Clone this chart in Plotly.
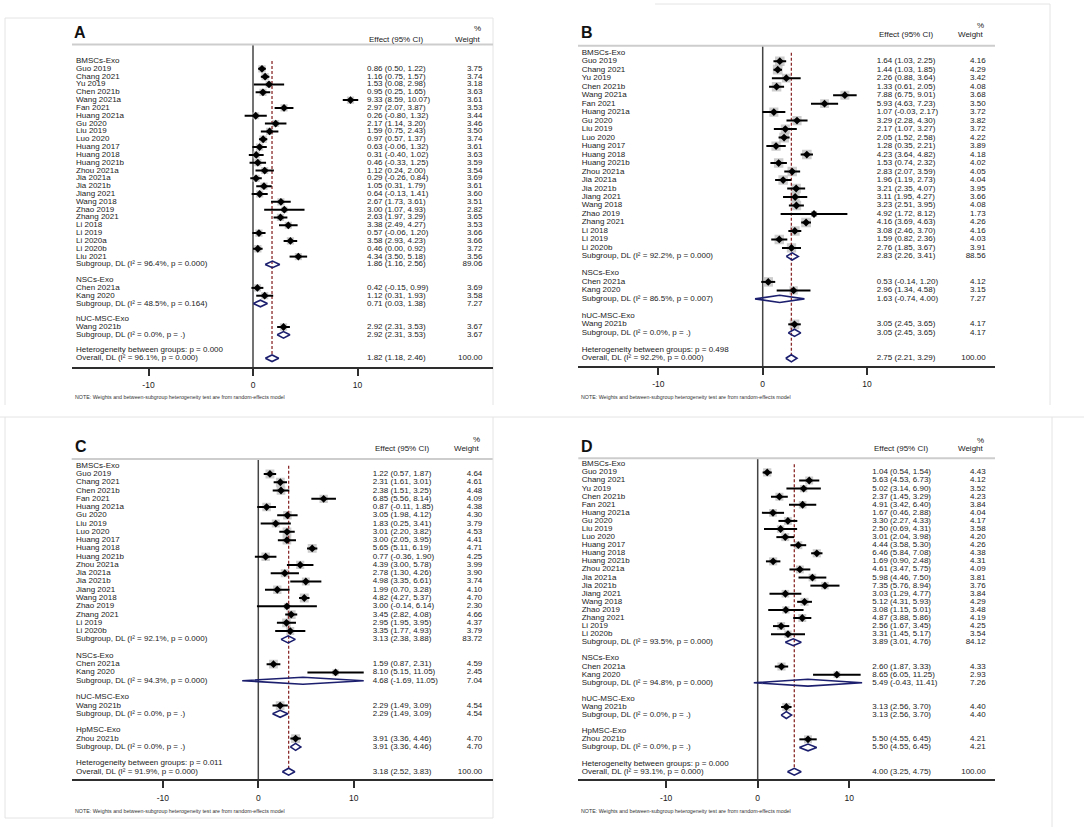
import math
import plotly.graph_objects as go

W, H = 1084, 827
FONT = "Liberation Sans"
TXT = "#1a1a1a"
NAVY = "#1c1f6e"
MAROON = "#8b2a2a"
BOXGREY = "#b8b8b8"
TICKS = [-10, 0, 10]
NOTE = "NOTE: Weights and between-subgroup heterogeneity test are from random-effects model"

# ---------------- Panel A ----------------
A_study = ["Guo 2019", "Chang 2021", "Yu 2019", "Chen 2021b", "Wang 2021a", "Fan 2021", "Huang 2021a",
           "Gu 2020", "Liu 2019", "Luo 2020", "Huang 2017", "Huang 2018", "Huang 2021b", "Zhou 2021a",
           "Jia 2021a", "Jia 2021b", "Jiang 2021", "Wang 2018", "Zhao 2019", "Zhang 2021", "Li 2018",
           "Li 2019", "Li 2020a", "Li 2020b", "Liu 2021", "Chen 2021a", "Kang 2020", "Wang 2021b"]
A_grp = [0] * 25 + [1, 1] + [2]
A_est = [0.86, 1.16, 1.53, 0.95, 9.33, 2.97, 0.26, 2.17, 1.59, 0.97, 0.63, 0.31, 0.46, 1.12, 0.29, 1.05,
         0.64, 2.67, 3.00, 2.63, 3.38, 0.57, 3.58, 0.46, 4.34, 0.42, 1.12, 2.92]
A_lo = [0.50, 0.75, 0.08, 0.25, 8.59, 2.07, -0.80, 1.14, 0.75, 0.57, -0.06, -0.40, -0.33, 0.24, -0.26, 0.31,
        -0.13, 1.73, 1.07, 1.97, 2.49, -0.06, 2.93, 0.00, 3.50, -0.15, 0.31, 2.31]
A_hi = [1.22, 1.57, 2.98, 1.65, 10.07, 3.87, 1.32, 3.20, 2.43, 1.37, 1.32, 1.02, 1.25, 2.00, 0.84, 1.79,
        1.41, 3.61, 4.93, 3.29, 4.27, 1.20, 4.23, 0.92, 5.18, 0.99, 1.93, 3.53]
A_wt = [3.75, 3.74, 3.18, 3.63, 3.61, 3.53, 3.44, 3.46, 3.50, 3.74, 3.61, 3.63, 3.59, 3.54, 3.69, 3.61,
        3.60, 3.51, 2.82, 3.65, 3.53, 3.66, 3.66, 3.72, 3.56, 3.69, 3.58, 3.67]
A_groups = ["BMSCs-Exo", "NSCs-Exo", "hUC-MSC-Exo"]
A_sub_est = [1.86, 0.71, 2.92]
A_sub_lo = [1.16, 0.03, 2.31]
A_sub_hi = [2.56, 1.38, 3.53]
A_sub_wt = [89.06, 7.27, 3.67]
A_sub_i2 = ["96.4%", "48.5%", "0.0%"]
A_sub_p = ["0.000", "0.164", "."]
A_het_p = "0.000"
A_all = [1.82, 1.18, 2.46]
A_all_i2 = "96.1%"
A_all_p = "0.000"

# ---------------- Panel B ----------------
B_study = ["Guo 2019", "Chang 2021", "Yu 2019", "Chen 2021b", "Wang 2021a", "Fan 2021", "Huang 2021a",
           "Gu 2020", "Liu 2019", "Luo 2020", "Huang 2017", "Huang 2018", "Huang 2021b", "Zhou 2021a",
           "Jia 2021a", "Jia 2021b", "Jiang 2021", "Wang 2018", "Zhao 2019", "Zhang 2021", "Li 2018",
           "Li 2019", "Li 2020b", "Chen 2021a", "Kang 2020", "Wang 2021b"]
B_grp = [0] * 23 + [1, 1] + [2]
B_est = [1.64, 1.44, 2.26, 1.33, 7.88, 5.93, 1.07, 3.29, 2.17, 2.05, 1.28, 4.23, 1.53, 2.83, 1.96, 3.21,
         3.11, 3.23, 4.92, 4.16, 3.08, 1.59, 2.76, 0.53, 2.96, 3.05]
B_lo = [1.03, 1.03, 0.88, 0.61, 6.75, 4.63, -0.03, 2.28, 1.07, 1.52, 0.35, 3.64, 0.74, 2.07, 1.19, 2.35,
        1.95, 2.51, 1.72, 3.69, 2.46, 0.82, 1.85, -0.14, 1.34, 2.45]
B_hi = [2.25, 1.85, 3.64, 2.05, 9.01, 7.23, 2.17, 4.30, 3.27, 2.58, 2.21, 4.82, 2.32, 3.59, 2.73, 4.07,
        4.27, 3.95, 8.12, 4.63, 3.70, 2.36, 3.67, 1.20, 4.58, 3.65]
B_wt = [4.16, 4.29, 3.42, 4.08, 3.68, 3.50, 3.72, 3.82, 3.72, 4.22, 3.89, 4.18, 4.02, 4.05, 4.04, 3.95,
        3.66, 4.08, 1.73, 4.26, 4.16, 4.03, 3.91, 4.12, 3.15, 4.17]
B_groups = ["BMSCs-Exo", "NSCs-Exo", "hUC-MSC-Exo"]
B_sub_est = [2.83, 1.63, 3.05]
B_sub_lo = [2.26, -0.74, 2.45]
B_sub_hi = [3.41, 4.00, 3.65]
B_sub_wt = [88.56, 7.27, 4.17]
B_sub_i2 = ["92.2%", "86.5%", "0.0%"]
B_sub_p = ["0.000", "0.007", "."]
B_het_p = "0.498"
B_all = [2.75, 2.21, 3.29]
B_all_i2 = "92.2%"
B_all_p = "0.000"

# ---------------- Panel C ----------------
C_study = ["Guo 2019", "Chang 2021", "Chen 2021b", "Fan 2021", "Huang 2021a", "Gu 2020", "Liu 2019",
           "Luo 2020", "Huang 2017", "Huang 2018", "Huang 2021b", "Zhou 2021a", "Jia 2021a", "Jia 2021b",
           "Jiang 2021", "Wang 2018", "Zhao 2019", "Zhang 2021", "Li 2019", "Li 2020b", "Chen 2021a",
           "Kang 2020", "Wang 2021b", "Zhou 2021b"]
C_grp = [0] * 20 + [1, 1, 2, 3]
C_est = [1.22, 2.31, 2.38, 6.85, 0.87, 3.05, 1.83, 3.01, 3.00, 5.65, 0.77, 4.39, 2.78, 4.98, 1.99, 4.82,
         3.00, 3.45, 2.95, 3.35, 1.59, 8.10, 2.29, 3.91]
C_lo = [0.57, 1.61, 1.51, 5.56, -0.11, 1.98, 0.25, 2.20, 2.05, 5.11, -0.36, 3.00, 1.30, 3.35, 0.70, 4.27,
        -0.14, 2.82, 1.95, 1.77, 0.87, 5.15, 1.49, 3.36]
C_hi = [1.87, 3.01, 3.25, 8.14, 1.85, 4.12, 3.41, 3.82, 3.95, 6.19, 1.90, 5.78, 4.26, 6.61, 3.28, 5.37,
        6.14, 4.08, 3.95, 4.93, 2.31, 11.05, 3.09, 4.46]
C_wt = [4.64, 4.61, 4.48, 4.09, 4.38, 4.30, 3.79, 4.53, 4.41, 4.71, 4.25, 3.99, 3.90, 3.74, 4.10, 4.70,
        2.30, 4.66, 4.37, 3.79, 4.59, 2.45, 4.54, 4.70]
C_groups = ["BMSCs-Exo", "NSCs-Exo", "hUC-MSC-Exo", "HpMSC-Exo"]
C_sub_est = [3.13, 4.68, 2.29, 3.91]
C_sub_lo = [2.38, -1.69, 1.49, 3.36]
C_sub_hi = [3.88, 11.05, 3.09, 4.46]
C_sub_wt = [83.72, 7.04, 4.54, 4.70]
C_sub_i2 = ["92.1%", "94.3%", "0.0%", "0.0%"]
C_sub_p = ["0.000", "0.000", ".", "."]
C_het_p = "0.011"
C_all = [3.18, 2.52, 3.83]
C_all_i2 = "91.9%"
C_all_p = "0.000"

# ---------------- Panel D ----------------
D_study = ["Guo 2019", "Chang 2021", "Yu 2019", "Chen 2021b", "Fan 2021", "Huang 2021a", "Gu 2020",
           "Liu 2019", "Luo 2020", "Huang 2017", "Huang 2018", "Huang 2021b", "Zhou 2021a", "Jia 2021a",
           "Jia 2021b", "Jiang 2021", "Wang 2018", "Zhao 2019", "Zhang 2021", "Li 2019", "Li 2020b",
           "Chen 2021a", "Kang 2020", "Wang 2021b", "Zhou 2021b"]
D_grp = [0] * 21 + [1, 1, 2, 3]
D_est = [1.04, 5.63, 5.02, 2.37, 4.91, 1.67, 3.30, 2.50, 3.01, 4.44, 6.46, 1.69, 4.61, 5.98, 7.35, 3.03,
         5.12, 3.08, 4.87, 2.56, 3.31, 2.60, 8.65, 3.13, 5.50]
D_lo = [0.54, 4.53, 3.14, 1.45, 3.42, 0.46, 2.27, 0.69, 2.04, 3.58, 5.84, 0.90, 3.47, 4.46, 5.76, 1.29,
        4.31, 1.15, 3.88, 1.67, 1.45, 1.87, 6.05, 2.56, 4.55]
D_hi = [1.54, 6.73, 6.90, 3.29, 6.40, 2.88, 4.33, 4.31, 3.98, 5.30, 7.08, 2.48, 5.75, 7.50, 8.94, 4.77,
        5.93, 5.01, 5.86, 3.45, 5.17, 3.33, 11.25, 3.70, 6.45]
D_wt = [4.43, 4.12, 3.52, 4.23, 3.84, 4.04, 4.17, 3.58, 4.20, 4.26, 4.38, 4.31, 4.09, 3.81, 3.76, 3.84,
        4.29, 3.48, 4.19, 4.25, 3.54, 4.33, 2.93, 4.40, 4.21]
D_groups = ["BMSCs-Exo", "NSCs-Exo", "hUC-MSC-Exo", "HpMSC-Exo"]
D_sub_est = [3.89, 5.49, 3.13, 5.50]
D_sub_lo = [3.01, -0.43, 2.56, 4.55]
D_sub_hi = [4.76, 11.41, 3.70, 6.45]
D_sub_wt = [84.12, 7.26, 4.40, 4.21]
D_sub_i2 = ["93.5%", "94.8%", "0.0%", "0.0%"]
D_sub_p = ["0.000", "0.000", ".", "."]
D_het_p = "0.000"
D_all = [4.00, 3.25, 4.75]
D_all_i2 = "93.1%"
D_all_p = "0.000"

PANELS = [
    ("A", A_study, A_grp, A_est, A_lo, A_hi, A_wt, A_groups, A_sub_est, A_sub_lo, A_sub_hi, A_sub_wt,
     A_sub_i2, A_sub_p, A_het_p, A_all, A_all_i2, A_all_p),
    ("B", B_study, B_grp, B_est, B_lo, B_hi, B_wt, B_groups, B_sub_est, B_sub_lo, B_sub_hi, B_sub_wt,
     B_sub_i2, B_sub_p, B_het_p, B_all, B_all_i2, B_all_p),
    ("C", C_study, C_grp, C_est, C_lo, C_hi, C_wt, C_groups, C_sub_est, C_sub_lo, C_sub_hi, C_sub_wt,
     C_sub_i2, C_sub_p, C_het_p, C_all, C_all_i2, C_all_p),
    ("D", D_study, D_grp, D_est, D_lo, D_hi, D_wt, D_groups, D_sub_est, D_sub_lo, D_sub_hi, D_sub_wt,
     D_sub_i2, D_sub_p, D_het_p, D_all, D_all_i2, D_all_p),
]

# pixel geometry of each panel (layout only)
GEO = {
    "A": dict(zero=253.0, pxu=10.45, xl=72, xr=493, top=44.5, axis=367, row0=61.0, rowN=358.3,
              lab=76, eff=367, wr=482.5, tx=72, ty=33, hy=40, py=29, ny=397, msz=3.8),
    "B": dict(zero=762.7, pxu=10.43, xl=578, xr=995, top=45.7, axis=366, row0=52.7, rowN=358.3,
              lab=581.7, eff=876.7, wr=985.7, tx=579, ty=33, hy=35, py=25, ny=397, msz=4.7),
    "C": dict(zero=258.3, pxu=9.54, xl=71.7, xr=492.7, top=459, axis=779.3, row0=465.7, rowN=771.7,
              lab=76, eff=372.7, wr=482.3, tx=73, ty=447, hy=449, py=439, ny=810.7, msz=4.1),
    "D": dict(zero=757.7, pxu=9.15, xl=578.3, xr=995, top=458.3, axis=779.3, row0=464.3, rowN=771.7,
              lab=581.7, eff=872.3, wr=985.7, tx=579, ty=447, hy=449, py=440, ny=810.7, msz=3.9),
}


def X(px):
    return px / W


def Y(py):
    return 1 - py / H


def fmt(e, l, h):
    return f"{e:.2f} ({l:.2f}, {h:.2f})"


fig = go.Figure()
layout = {}
shapes = []
annotations = []
TF = dict(family=FONT, size=8, color=TXT)

for k, (name, study, grp, est, lo, hi, wt, groups, s_est, s_lo, s_hi, s_wt, s_i2, s_p,
        het_p, allv, all_i2, all_p) in enumerate(PANELS, start=1):
    g = GEO[name]
    xa = "x" if k == 1 else f"x{k}"
    ya = "y" if k == 1 else f"y{k}"
    sfx = "" if k == 1 else str(k)

    lab_r, lab_t = [], []
    eff_r, eff_t, wt_t = [], [], []
    srow = [0] * len(study)
    subrow = []
    r = 0
    for gi, gname in enumerate(groups):
        lab_r.append(r); lab_t.append(gname); r += 1
        for i in range(len(study)):
            if grp[i] == gi:
                srow[i] = r
                lab_r.append(r); lab_t.append(study[i])
                eff_r.append(r); eff_t.append(fmt(est[i], lo[i], hi[i])); wt_t.append(f"{wt[i]:.2f}")
                r += 1
        subrow.append(r)
        lab_r.append(r); lab_t.append(f"Subgroup, DL (I² = {s_i2[gi]}, p = {s_p[gi]})")
        eff_r.append(r); eff_t.append(fmt(s_est[gi], s_lo[gi], s_hi[gi])); wt_t.append(f"{s_wt[gi]:.2f}")
        r += 2
    lab_r.append(r); lab_t.append(f"Heterogeneity between groups: p = {het_p}")
    r += 1
    ov_row = r
    lab_r.append(r); lab_t.append(f"Overall, DL (I² = {all_i2}, p = {all_p})")
    eff_r.append(r); eff_t.append(fmt(*allv)); wt_t.append("100.00")

    rowh = (g["rowN"] - g["row0"]) / ov_row
    yr = [(g["axis"] - g["row0"]) / rowh, (g["top"] - g["row0"]) / rowh]
    xr = [(g["xl"] - g["zero"]) / g["pxu"], (g["xr"] - g["zero"]) / g["pxu"]]

    layout[f"xaxis{sfx}"] = dict(domain=[X(g["xl"]), X(g["xr"])], range=xr, anchor=ya,
                                 showline=True, linecolor="#2e2e2e", linewidth=2, ticks="outside",
                                 ticklen=7, tickwidth=2, tickcolor="#2e2e2e", tickvals=TICKS,
                                 ticktext=[str(t) for t in TICKS], ticklabelstandoff=2,
                                 tickfont=dict(family=FONT, size=8.5, color=TXT),
                                 showgrid=False, zeroline=False, fixedrange=True)
    layout[f"yaxis{sfx}"] = dict(domain=[Y(g["axis"]), Y(g["top"])], range=yr, anchor=xa,
                                 visible=False, fixedrange=True)

    # zero line
    shapes.append(dict(type="line", xref=xa, yref=f"{ya} domain", x0=0, x1=0, y0=0, y1=1,
                       line=dict(color="#444444", width=1.5), layer="below"))
    # header separator
    shapes.append(dict(type="line", xref="paper", yref="paper", x0=X(g["xl"]), x1=X(g["xr"]),
                       y0=Y(g["top"]), y1=Y(g["top"]), line=dict(color="#cdcdcd", width=2)))

    # weight boxes
    fig.add_trace(go.Scatter(x=est, y=srow, xaxis=xa, yaxis=ya, mode="markers", hoverinfo="skip",
                             marker=dict(symbol="square", color=BOXGREY, line=dict(width=0),
                                         size=[g["msz"] * math.sqrt(w) for w in wt]),
                             showlegend=False))
    # overall dashed line
    fig.add_trace(go.Scatter(x=[allv[0], allv[0]], y=[0, ov_row - 0.45], xaxis=xa, yaxis=ya,
                             mode="lines", hoverinfo="skip", showlegend=False,
                             line=dict(color=MAROON, width=1.3, dash="3px,2px")))
    # CIs + point estimates
    fig.add_trace(go.Scatter(x=est, y=srow, xaxis=xa, yaxis=ya, mode="markers", hoverinfo="skip",
                             marker=dict(symbol="diamond", color="black", size=6, line=dict(width=0)),
                             error_x=dict(type="data", symmetric=False,
                                          array=[h - e for h, e in zip(hi, est)],
                                          arrayminus=[e - l for e, l in zip(est, lo)],
                                          width=0, thickness=2, color="black"),
                             showlegend=False))
    # diamonds (subgroups + overall)
    dx, dy = [], []
    hh = 0.42
    for e, l, h, rr in list(zip(s_est, s_lo, s_hi, subrow)) + [(allv[0], allv[1], allv[2], ov_row)]:
        dx += [l, e, h, e, l, None]
        dy += [rr, rr - hh, rr, rr + hh, rr, None]
    fig.add_trace(go.Scatter(x=dx, y=dy, xaxis=xa, yaxis=ya, mode="lines", hoverinfo="skip",
                             line=dict(color=NAVY, width=1.6), showlegend=False))

    # text columns
    fig.add_trace(go.Scatter(x=[(g["lab"] - g["zero"]) / g["pxu"]] * len(lab_r), y=lab_r, text=lab_t,
                             xaxis=xa, yaxis=ya, mode="text", textposition="middle right",
                             textfont=TF, hoverinfo="skip", showlegend=False, cliponaxis=False))
    fig.add_trace(go.Scatter(x=[(g["eff"] - g["zero"]) / g["pxu"]] * len(eff_r), y=eff_r, text=eff_t,
                             xaxis=xa, yaxis=ya, mode="text", textposition="middle right",
                             textfont=TF, hoverinfo="skip", showlegend=False, cliponaxis=False))
    fig.add_trace(go.Scatter(x=[(g["wr"] - g["zero"]) / g["pxu"]] * len(eff_r), y=eff_r, text=wt_t,
                             xaxis=xa, yaxis=ya, mode="text", textposition="middle left",
                             textfont=TF, hoverinfo="skip", showlegend=False, cliponaxis=False))

    # headings
    annotations += [
        dict(text=f"<b>{name}</b>", x=X(g["tx"]), y=Y(g["ty"]), xref="paper", yref="paper",
             xanchor="left", yanchor="middle", showarrow=False,
             font=dict(family=FONT, size=16, color="#111111")),
        dict(text="Effect (95% CI)", x=X(g["eff"]), y=Y(g["hy"]), xref="paper", yref="paper",
             xanchor="left", yanchor="middle", showarrow=False, font=TF),
        dict(text="Weight", x=X(g["wr"]), y=Y(g["hy"]), xref="paper", yref="paper",
             xanchor="right", yanchor="middle", showarrow=False, font=TF),
        dict(text="%", x=X(g["wr"]), y=Y(g["py"]), xref="paper", yref="paper",
             xanchor="right", yanchor="middle", showarrow=False, font=TF),
        dict(text=NOTE, x=X(g["xl"] + 1), y=Y(g["ny"]), xref="paper", yref="paper",
             xanchor="left", yanchor="middle", showarrow=False,
             font=dict(family=FONT, size=5.3, color="#333333")),
    ]

# faint panel frames
FR = dict(color="#e4e4e4", width=1)
for (x0, y0, x1, y1) in [(5, 18, 5, 405), (5, 18, 493, 18), (493, 18, 493, 405),
                         (655, 4, 1050, 4), (1050, 4, 1050, 405),
                         (0, 417, 1084, 417), (5, 417, 5, 818), (493, 417, 493, 818), (5, 818, 493, 818),
                         (1052, 417, 1052, 827)]:
    shapes.append(dict(type="line", xref="paper", yref="paper", x0=X(x0), x1=X(x1), y0=Y(y0), y1=Y(y1),
                       line=FR, layer="below"))

fig.update_layout(width=W, height=H, margin=dict(l=0, r=0, t=0, b=0), paper_bgcolor="white",
                  plot_bgcolor="rgba(0,0,0,0)", showlegend=False, shapes=shapes,
                  annotations=annotations, **layout)

fig.write_html("out.html", config={"displayModeBar": False, "staticPlot": True},
               post_script="document.body.style.margin='0';document.body.style.overflow='hidden';")
